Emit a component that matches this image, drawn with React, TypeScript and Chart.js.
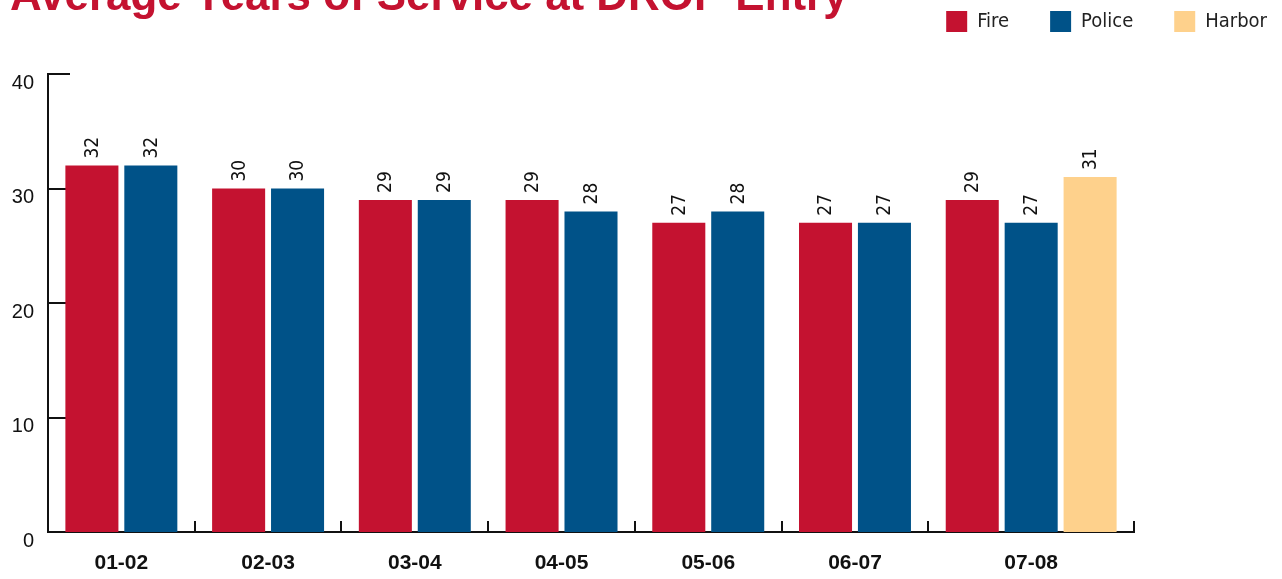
import React, { useEffect, useRef } from 'react';
import { Chart, registerables } from 'chart.js';

Chart.register(...registerables);

// ---- data ----
const titleText = 'Average Years of Service at DROP Entry';
const categories = ['01-02', '02-03', '03-04', '04-05', '05-06', '06-07', '07-08'];
const seriesNames = ['Fire', 'Police', 'Harbor'];
const fireYears: (number | null)[] = [32, 30, 29, 29, 27, 27, 29];
const policeYears: (number | null)[] = [32, 30, 29, 28, 28, 27, 27];
const harborYears: (number | null)[] = [null, null, null, null, null, null, 31];
const yTickValues = [0, 10, 20, 30, 40];

// ---- styles ----
const seriesColors = ['#C41230', '#005288', '#FED18C'];
const TITLE_RED = '#C41230';
const INK = '#111111';
const NARROW = "'Liberation Sans Narrow', 'DejaVu Sans Condensed', 'Liberation Sans', sans-serif";
const SANS = "'Liberation Sans', Arial, sans-serif";

// ---- layout in bar-slot units (each category is as wide as its bars plus padding) ----
const series = [fireYears, policeYears, harborYears];
const CAT_PAD = 0.49;
const counts = categories.map((_, i) => series.filter((s) => s[i] != null).length);
const starts: number[] = [];
let acc = 0;
counts.forEach((c) => {
  starts.push(acc);
  acc += c + CAT_PAD;
});
const totalUnits = acc;
const boundaries = [...starts, totalUnits];
const centers = starts.map((s, i) => s + (counts[i] + CAT_PAD) / 2);

function pointsFor(k: number) {
  const pts: { x: number; y: number }[] = [];
  categories.forEach((_, i) => {
    const v = series[k][i];
    if (v == null) return;
    const slot = series.slice(0, k).filter((s) => s[i] != null).length;
    pts.push({ x: starts[i] + CAT_PAD / 2 + slot + 0.5, y: v });
  });
  return pts;
}

const axisTicks = {
  id: 'axisTicks',
  beforeDatasetsDraw(chart: any) {
    const { ctx, chartArea, scales } = chart;
    const x = scales.x;
    const y = scales.y;
    ctx.save();
    ctx.strokeStyle = INK;
    ctx.lineWidth = 2;
    ctx.beginPath();
    y.ticks.forEach((t: any) => {
      const py = Math.round(y.getPixelForValue(t.value));
      ctx.moveTo(chartArea.left, py);
      ctx.lineTo(chartArea.left + 22, py);
    });
    boundaries.forEach((b) => {
      const px = Math.round(x.getPixelForValue(b));
      ctx.moveTo(px, chartArea.bottom);
      ctx.lineTo(px, chartArea.bottom - 11);
    });
    ctx.stroke();
    ctx.restore();
  },
};

const barLabels = {
  id: 'barLabels',
  afterDatasetsDraw(chart: any) {
    const { ctx } = chart;
    ctx.save();
    ctx.fillStyle = INK;
    ctx.font = `19px ${NARROW}`;
    ctx.textAlign = 'left';
    ctx.textBaseline = 'middle';
    chart.data.datasets.forEach((ds: any, i: number) => {
      const meta = chart.getDatasetMeta(i);
      meta.data.forEach((el: any, j: number) => {
        const p = ds.data[j];
        ctx.save();
        ctx.translate(el.x + 1, el.y - 7);
        ctx.rotate(-Math.PI / 2);
        ctx.fillText(String(p.y), 0, 0);
        ctx.restore();
      });
    });
    ctx.restore();
  },
};

export default function App() {
  const ref = useRef<HTMLCanvasElement>(null);
  useEffect(() => {
    const chart = new Chart(ref.current as HTMLCanvasElement, {
      type: 'bar',
      data: {
        datasets: seriesNames.map((name, k) => ({
          label: name,
          data: pointsFor(k),
          backgroundColor: seriesColors[k],
          borderWidth: 0,
          grouped: false,
          categoryPercentage: 1,
          barPercentage: 0.9,
          xAxisID: 'x',
          yAxisID: 'y',
        })),
      },
      options: {
        animation: false,
        responsive: true,
        maintainAspectRatio: false,
        devicePixelRatio: 1,
        events: [],
        layout: { padding: { top: -30, left: 10, right: -26, bottom: 0 } },
        plugins: {
          tooltip: { enabled: false },
          title: {
            display: true,
            text: titleText,
            align: 'start',
            color: TITLE_RED,
            font: { family: SANS, weight: 'bold', size: 43.9 },
            padding: { top: 1.45, bottom: -54.13 },
          },
          legend: {
            display: true,
            position: 'top',
            align: 'end',
            labels: {
              boxWidth: 21,
              boxHeight: 21,
              padding: 41,
              color: '#222222',
              font: { family: NARROW, size: 20 },
            },
          },
        },
        scales: {
          x: {
            type: 'linear',
            position: 'bottom',
            min: 0,
            max: totalUnits,
            offset: false,
            grid: { display: false, drawTicks: false, offset: false },
            border: { display: true, color: INK, width: 2 },
            ticks: {
              autoSkip: false,
              maxRotation: 0,
              padding: 19,
              color: INK,
              font: { family: SANS, weight: 'bold', size: 21 },
              callback: (_v: any, i: number) => categories[i],
            },
            afterBuildTicks: (s: any) => {
              s.ticks = centers.map((value) => ({ value }));
            },
            afterFit: (s: any) => {
              s.height = 47;
            },
          },
          xTop: {
            type: 'linear',
            position: 'top',
            display: true,
            offset: false,
            grid: { display: false, drawTicks: false },
            border: { display: false },
            ticks: { display: false },
            afterFit: (s: any) => {
              s.height = 32;
            },
          },
          y: {
            type: 'linear',
            position: 'left',
            min: yTickValues[0],
            max: yTickValues[yTickValues.length - 1],
            grid: { display: false, drawTicks: false },
            border: { display: true, color: INK, width: 2 },
            ticks: {
              stepSize: yTickValues[1] - yTickValues[0],
              padding: 14,
              labelOffset: 9,
              color: INK,
              font: { family: SANS, size: 20 },
            },
            afterFit: (s: any) => {
              s.width = 38;
            },
          },
          yRight: {
            type: 'linear',
            position: 'right',
            display: true,
            grid: { display: false, drawTicks: false },
            border: { display: false },
            ticks: { display: false },
            afterFit: (s: any) => {
              s.width = 174;
            },
          },
        },
      } as any,
      plugins: [axisTicks, barLabels],
    });
    return () => chart.destroy();
  }, []);

  return (
    <div style={{ position: 'absolute', left: 0, top: 0, width: 1282, height: 579 }}>
      <canvas ref={ref} />
    </div>
  );
}
